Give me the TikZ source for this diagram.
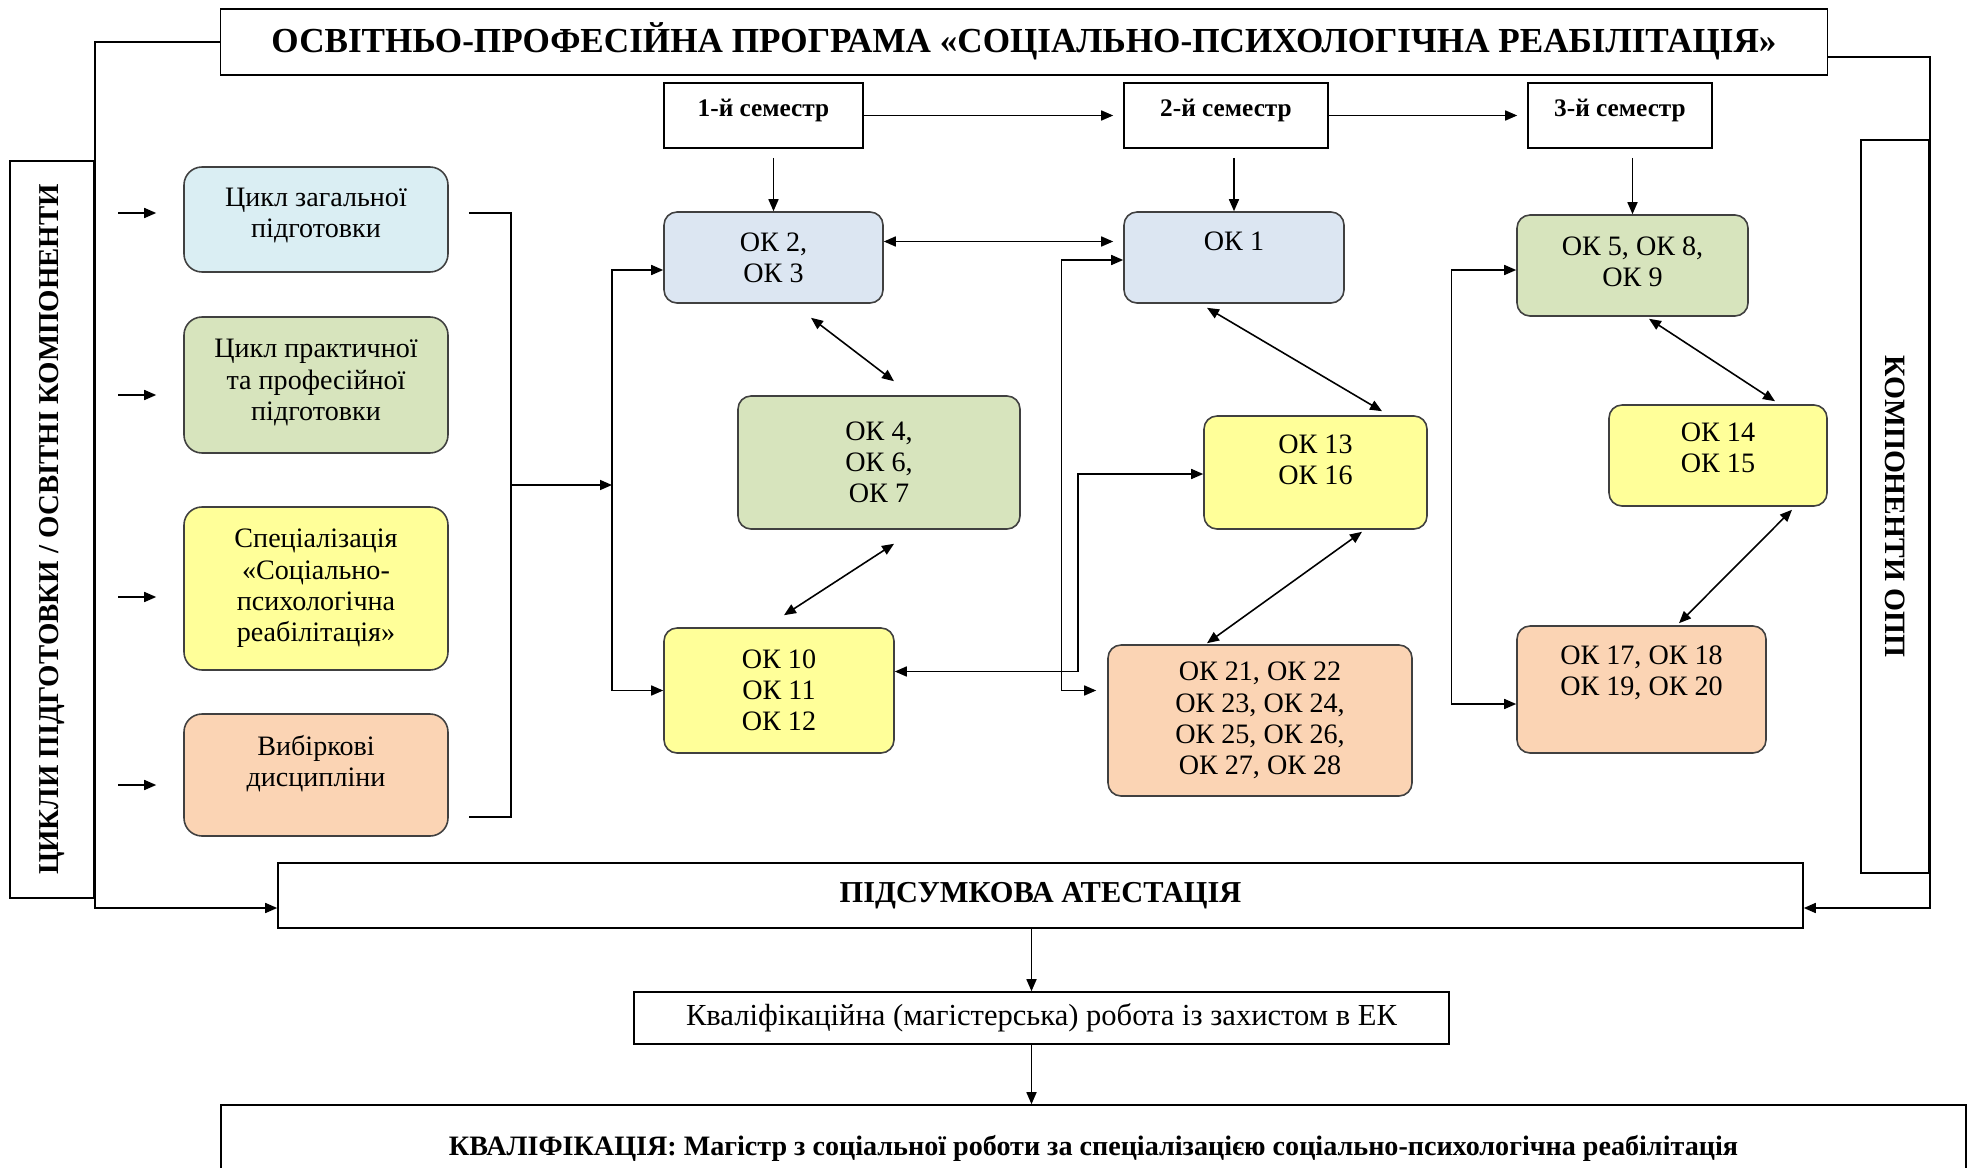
\documentclass[tikz,border=0pt]{standalone}
\usepackage{fontspec}
\setmainfont{Liberation Serif}
\usepackage{graphicx}
\usetikzlibrary{arrows.meta}
\definecolor{cykblue}{HTML}{DAEEF3}
\definecolor{okblue}{HTML}{DCE6F2}
\definecolor{okgreen}{HTML}{D7E4BD}
\definecolor{okyellow}{HTML}{FFFF99}
\definecolor{okpeach}{HTML}{FBD4B4}
\definecolor{edge}{HTML}{404040}
\tikzset{
  plain/.style={draw, rectangle, inner sep=0pt, align=center},
  okbox/.style={draw=edge, fill=#1, rounded corners=1.3mm, inner sep=0pt, align=center,
    font=\fontsize{8}{8.9}\selectfont},
  cycbox/.style={okbox=#1, rounded corners=1.8mm, minimum width=26.4mm},
  txtup/.style={text depth=#1},
  link/.style={-{Triangle[length=1.2mm,width=1mm]}},
  dlink/.style={{Triangle[length=1.2mm,width=1mm]}-{Triangle[length=1.2mm,width=1mm]}}
}

\begin{document}
\begin{tikzpicture}[x=0.1mm, y=-0.1mm, line width=0.45pt]

\path[use as bounding box, clip] (0,0) rectangle (1972,1168);

\node[plain, minimum width=160.7mm, minimum height=6.6mm, txtup=0.8mm, font=\bfseries\fontsize{10}{11}\selectfont] (title) at (1024,42) {ОСВІТНЬО-ПРОФЕСІЙНА ПРОГРАМА «СОЦІАЛЬНО-ПСИХОЛОГІЧНА РЕАБІЛІТАЦІЯ»};
\node[plain, minimum width=8.4mm, minimum height=73.7mm, font=\bfseries\fontsize{8.2}{9}\selectfont] (cycles) at (52,529.5) {\rotatebox{90}{ЦИКЛИ ПІДГОТОВКИ / ОСВІТНІ КОМПОНЕНТИ}};
\node[plain, minimum width=6.8mm, minimum height=73.3mm, font=\bfseries\fontsize{8.4}{9}\selectfont] (opp) at (1895,506.5) {\rotatebox{-90}{КОМПОНЕНТИ ОПП}};

\node[plain, minimum width=19.9mm, minimum height=6.5mm, txtup=1.5mm, font=\bfseries\fontsize{7.2}{8}\selectfont] (s1) at (763.5,115.5) {1-й семестр};
\node[plain, minimum width=20.4mm, minimum height=6.5mm, txtup=1.5mm, font=\bfseries\fontsize{7.2}{8}\selectfont] (s2) at (1226,115.5) {2-й семестр};
\node[plain, minimum width=18.4mm, minimum height=6.5mm, txtup=1.5mm, font=\bfseries\fontsize{7.2}{8}\selectfont] (s3) at (1620,115.5) {3-й семестр};

\node[cycbox=cykblue, minimum height=10.5mm, txtup=1.3mm] (b1) at (316,219.5) {Цикл загальної\\підготовки};
\node[cycbox=okgreen, minimum height=13.6mm, txtup=1mm] (b2) at (316,385) {Цикл практичної\\та професійної\\підготовки};
\node[cycbox=okyellow, minimum height=16.3mm] (b3) at (316,588.5) {Спеціалізація\\«Соціально-\\психологічна\\реабілітація»};
\node[cycbox=okpeach, minimum height=12.2mm, txtup=2.8mm] (b4) at (316,775) {Вибіркові\\дисципліни};

\node[okbox=okblue, minimum width=21.9mm, minimum height=9.1mm] (ok2) at (773.5,257.5) {ОК 2,\\ОК 3};
\node[okbox=okgreen, minimum width=28.2mm, minimum height=13.3mm] (ok4) at (879,462.5) {ОК 4,\\ОК 6,\\ОК 7};
\node[okbox=okyellow, minimum width=23mm, minimum height=12.5mm] (ok10) at (779,690.5) {ОК 10\\ОК 11\\ОК 12};

\node[okbox=okblue, minimum width=22mm, minimum height=9.1mm, txtup=3.3mm] (ok1) at (1234,257.5) {ОК 1};
\node[okbox=okyellow, minimum width=22.3mm, minimum height=11.3mm, txtup=2.5mm] (ok13) at (1315.5,472.5) {ОК 13\\ОК 16};
\node[okbox=okpeach, minimum width=30.4mm, minimum height=15.1mm] (ok21) at (1260,720.5) {ОК 21, ОК 22\\ОК 23, ОК 24,\\ОК 25, ОК 26,\\ОК 27, ОК 28};

\node[okbox=okgreen, minimum width=23.1mm, minimum height=10.1mm, txtup=0.8mm] (ok5) at (1632.5,265.5) {ОК 5, ОК 8,\\ОК 9};
\node[okbox=okyellow, minimum width=21.8mm, minimum height=10.1mm, txtup=1.5mm] (ok14) at (1718,455.5) {ОК 14\\ОК 15};
\node[okbox=okpeach, minimum width=24.9mm, minimum height=12.7mm, txtup=3.7mm] (ok17) at (1641.5,689.5) {ОК 17, ОК 18\\ОК 19, ОК 20};

\node[plain, minimum width=152.5mm, minimum height=6.5mm, font=\bfseries\fontsize{8.65}{9}\selectfont] (att) at (1040.5,895.5) {ПІДСУМКОВА АТЕСТАЦІЯ};
\node[plain, minimum width=81.5mm, minimum height=5.2mm, font=\fontsize{8.7}{9}\selectfont] (kval) at (1041.5,1018) {Кваліфікаційна (магістерська) робота із захистом в ЕК};
\node[plain, minimum width=174.5mm, minimum height=8.6mm, font=\bfseries\fontsize{8}{9}\selectfont] (qual) at (1093.5,1148) {КВАЛІФІКАЦІЯ: Магістр з соціальної роботи за спеціалізацією соціально-психологічна реабілітація};

\coordinate (join1) at (511,485);
\coordinate (split1) at (612,485);
\coordinate (split2) at (1061.5,475);
\coordinate (split3) at (1078,570);
\coordinate (split4) at (1451.5,487);

\draw[link, shorten >=1mm] (s1) -- (s2);
\draw[link, shorten >=1mm] (s2) -- (s3);
\draw[link, shorten <=0.9mm] (ok2.north |- s1.south) -- (ok2.north);
\draw[link, shorten <=0.9mm] (ok1.north |- s2.south) -- (ok1.north);
\draw[link, shorten <=0.9mm] (ok5.north |- s3.south) -- (ok5.north);

\foreach \b/\dy in {b1/-6.5, b2/10, b3/8.5, b4/10}
  \draw[link, shorten >=2.7mm] ([shift={(-65,\dy)}]\b.west) -- ([shift={(0,\dy)}]\b.west);

\draw ([shift={(20,-6.5)}]b1.east) -| (join1) |- ([shift={(20,42)}]b4.east);
\draw[link] (join1) -- (split1);
\draw[dlink] ([shift={(0,12.5)}]ok2.west) -| (split1) |- (ok10.west);

\draw[dlink, shorten >=1mm] ([shift={(0,-16)}]ok2.east) -- ([shift={(0,-16)}]ok1.west);
\draw[dlink, shorten >=1.1mm] ([shift={(0,2.5)}]ok1.west) -| (split2) |- ([shift={(0,-30)}]ok21.west);
\draw[dlink] ([shift={(0,-19)}]ok10.east) -| (split3) |- ([shift={(0,1.5)}]ok13.west);
\draw[dlink] ([shift={(0,4.5)}]ok5.west) -| (split4) |- ([shift={(0,14.5)}]ok17.west);

\draw[dlink] ([shift={(37.5,14)}]ok2.south) -- ([shift={(15,-14)}]ok4.north);
\draw[dlink] ([shift={(15,14)}]ok4.south) -- ([shift={(5,-12)}]ok10.north);
\draw[dlink] ([shift={(-27,4)}]ok1.south) -- ([shift={(66.5,-4)}]ok13.north);
\draw[dlink] ([shift={(46.5,2)}]ok13.south) -- ([shift={(-53,-1)}]ok21.north);
\draw[dlink] ([shift={(16.5,2)}]ok5.south) -- ([shift={(57,-3)}]ok14.north);
\draw[dlink] ([shift={(74,3)}]ok14.south) -- ([shift={(37.5,-2)}]ok17.north);

\draw[link] (title.west) -| (cycles.east) |- ([shift={(0,12.5)}]att.west);
\draw[link] ([shift={(0,15)}]title.east) -| (opp.east) |- ([shift={(0,12.5)}]att.east);

\draw[link] ([shift={(-10,0)}]kval.north |- att.south) -- ([shift={(-10,0)}]kval.north);
\draw[link] ([shift={(-10,0)}]kval.south) -- ([shift={(-10,0)}]kval.south |- qual.north);

\end{tikzpicture}
\end{document}
